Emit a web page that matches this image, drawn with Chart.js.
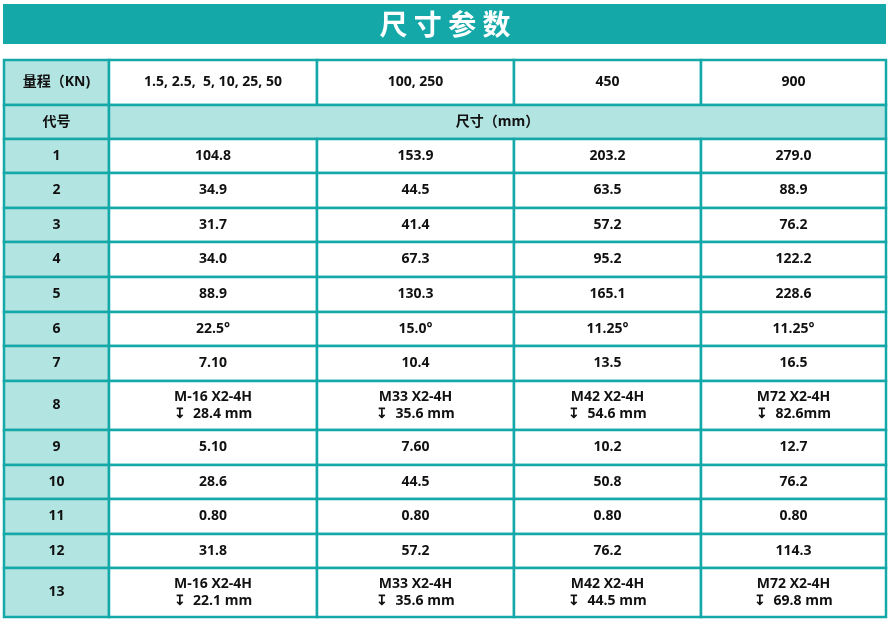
<!DOCTYPE html>
<html>
<head>
<meta charset="utf-8">
<script src="https://cdn.jsdelivr.net/npm/chart.js@4"></script>
<style>
  html, body { margin: 0; padding: 0; background: #fff; }
</style>
</head>
<body>
<canvas id="myChart" width="892" height="622"></canvas>
<script>
const title = '尺 寸 参 数';
const rangeLabel = '量程（KN)';
const ranges = ['1.5, 2.5,  5, 10, 25, 50', '100, 250', '450', '900'];
const codeLabel = '代号';
const unitLabel = '尺寸（mm）';
const codes = ['1', '2', '3', '4', '5', '6', '7', '8', '9', '10', '11', '12', '13'];
const col1 = ['104.8', '34.9', '31.7', '34.0', '88.9', '22.5°', '7.10', 'M-16 X2-4H\n↧  28.4 mm', '5.10', '28.6', '0.80', '31.8', 'M-16 X2-4H\n↧  22.1 mm'];
const col2 = ['153.9', '44.5', '41.4', '67.3', '130.3', '15.0°', '10.4', 'M33 X2-4H\n↧  35.6 mm', '7.60', '44.5', '0.80', '57.2', 'M33 X2-4H\n↧  35.6 mm'];
const col3 = ['203.2', '63.5', '57.2', '95.2', '165.1', '11.25°', '13.5', 'M42 X2-4H\n↧  54.6 mm', '10.2', '50.8', '0.80', '76.2', 'M42 X2-4H\n↧  44.5 mm'];
const col4 = ['279.0', '88.9', '76.2', '122.2', '228.6', '11.25°', '16.5', 'M72 X2-4H\n↧  82.6mm', '12.7', '76.2', '0.80', '114.3', 'M72 X2-4H\n↧  69.8 mm'];

// layout grid (pixel units on hidden scales)
const colEdges = [4, 109, 317, 514, 701, 886];
const rowEdges = [60, 105, 139, 173, 208, 242, 277, 312, 346, 381, 430, 465, 499, 534, 568, 617];

const TEAL = '#14a9a8';
const LIGHT = '#b2e4e1';
const FONT = 'bold 14px "Open Sans", "Noto Sans CJK SC", sans-serif';

const tablePlugin = {
  id: 'table',
  afterDraw(chart) {
    const ctx = chart.ctx;
    const xs = chart.scales.x, ys = chart.scales.y;
    const X = v => xs.getPixelForValue(v);
    const Y = v => ys.getPixelForValue(v);
    ctx.save();
    // title bar
    ctx.fillStyle = TEAL;
    ctx.fillRect(X(3), Y(4), X(886) - X(3), Y(44) - Y(4));
    ctx.fillStyle = '#fff';
    ctx.font = 'bold 28px "Noto Sans CJK SC", sans-serif';
    ctx.textAlign = 'center';
    ctx.textBaseline = 'middle';
    ctx.fillText(title, X(445), Y(24));

    const cell = (c0, c1, r, bg, text) => {
      const x0 = X(colEdges[c0]), x1 = X(colEdges[c1]);
      const y0 = Y(rowEdges[r]), y1 = Y(rowEdges[r + 1]);
      ctx.fillStyle = bg;
      ctx.fillRect(x0, y0, x1 - x0, y1 - y0);
      ctx.strokeStyle = TEAL;
      ctx.lineWidth = 2.5;
      ctx.strokeRect(x0, y0, x1 - x0, y1 - y0);
      ctx.fillStyle = '#111';
      ctx.font = FONT;
      const lines = text.split('\n');
      const cy = (y0 + y1) / 2, lh = 17;
      lines.forEach((l, i) => {
        ctx.fillText(l, (x0 + x1) / 2, cy + (i - (lines.length - 1) / 2) * lh);
      });
    };

    cell(0, 1, 0, LIGHT, rangeLabel);
    ranges.forEach((t, i) => cell(i + 1, i + 2, 0, '#fff', t));
    cell(0, 1, 1, LIGHT, codeLabel);
    cell(1, 5, 1, LIGHT, unitLabel);
    const cols = [col1, col2, col3, col4];
    codes.forEach((code, r) => {
      cell(0, 1, r + 2, LIGHT, code);
      cols.forEach((col, c) => cell(c + 1, c + 2, r + 2, '#fff', col[r]));
    });
    ctx.restore();
  }
};

new Chart(document.getElementById('myChart'), {
  type: 'scatter',
  data: { datasets: [{ data: [], pointRadius: 0 }] },
  options: {
    responsive: false,
    animation: false,
    layout: { padding: 0 },
    plugins: { legend: { display: false }, tooltip: { enabled: false } },
    scales: {
      x: { type: 'linear', min: 0, max: 892, display: false },
      y: { type: 'linear', min: 0, max: 622, reverse: true, display: false }
    }
  },
  plugins: [tablePlugin]
});
</script>
</body>
</html>
